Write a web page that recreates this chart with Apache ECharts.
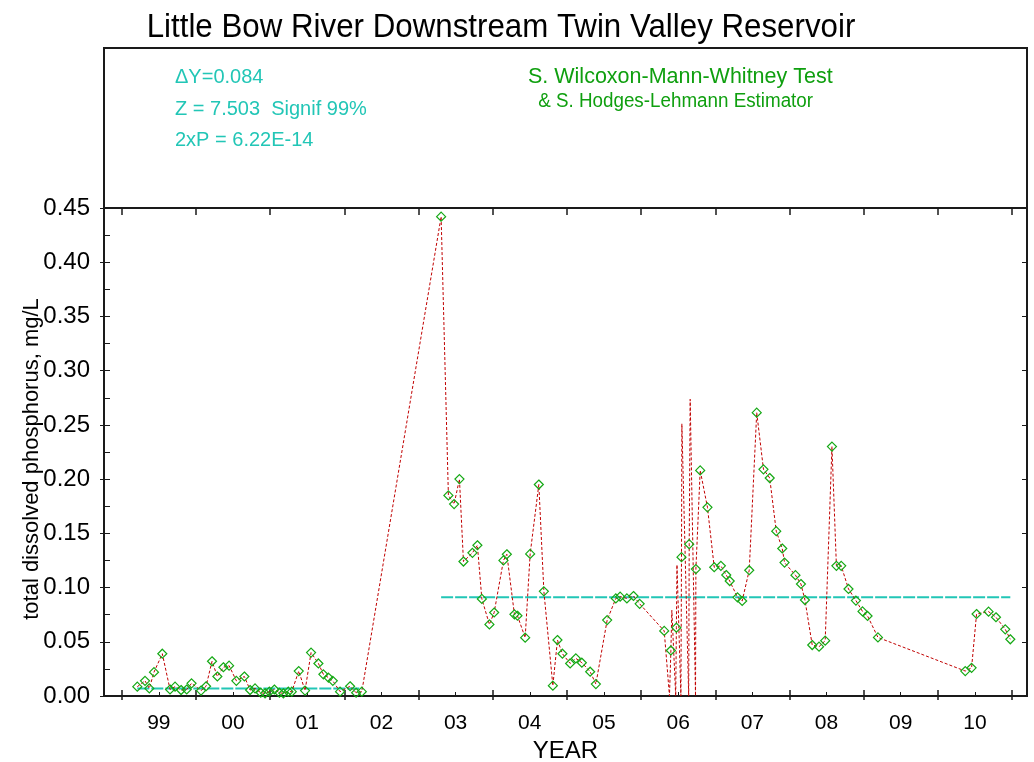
<!DOCTYPE html>
<html>
<head>
<meta charset="utf-8">
<script src="https://cdn.jsdelivr.net/npm/echarts@6/dist/echarts.min.js"></script>
<style>
  html, body { margin: 0; padding: 0; background: #fff; }
  #chart { width: 1034px; height: 762px; }
</style>
</head>
<body>
<div id="chart"></div>
<script>
// Sample dates (decimal years) and total dissolved phosphorus (mg/L)
const sampleDates = [
  1999.210, 1999.314, 1999.372, 1999.435, 1999.547, 1999.651, 1999.719, 1999.800, 1999.876, 1999.941,
  2000.069, 2000.137, 2000.217, 2000.289, 2000.370, 2000.447, 2000.545, 2000.653, 2000.730, 2000.797,
  2000.874, 2000.932, 2000.990, 2001.057, 2001.125, 2001.179, 2001.246, 2001.292, 2001.386, 2001.471,
  2001.552, 2001.651, 2001.718, 2001.786, 2001.845, 2001.943, 2002.078, 2002.159, 2002.236,
  2003.305, 2003.403, 2003.480, 2003.552, 2003.606, 2003.727, 2003.794, 2003.854, 2003.956, 2004.020,
  2004.145, 2004.191, 2004.293, 2004.334, 2004.438, 2004.505, 2004.622, 2004.690, 2004.811, 2004.873,
  2004.940, 2005.044, 2005.121, 2005.202, 2005.314, 2005.391, 2005.543, 2005.660, 2005.718, 2005.809,
  2005.898, 2005.981, 2006.312,
  2006.383, 2006.402, 2006.415, 2006.467, 2006.476, 2006.484, 2006.537, 2006.545, 2006.550,
  2006.642, 2006.649, 2006.662, 2006.734, 2006.739,
  2006.797, 2006.895, 2006.986, 2007.076, 2007.148, 2007.195, 2007.300, 2007.363, 2007.458, 2007.559,
  2007.650, 2007.734, 2007.822, 2007.903, 2007.934, 2008.081, 2008.155, 2008.209, 2008.307, 2008.399,
  2008.482, 2008.573, 2008.633, 2008.698, 2008.796, 2008.896, 2008.985, 2009.053, 2009.193,
  2010.370, 2010.455, 2010.522, 2010.684, 2010.784, 2010.909, 2010.977
];
const tdpValues = [
  0.0086, 0.014, 0.007, 0.022, 0.039, 0.006, 0.0086, 0.0055, 0.006, 0.0117,
  0.005, 0.009, 0.032, 0.018, 0.0265, 0.028, 0.014, 0.018, 0.0055, 0.007,
  0.003, 0.0025, 0.004, 0.006, 0.003, 0.0025, 0.004, 0.004, 0.023, 0.005,
  0.040, 0.030, 0.020, 0.017, 0.014, 0.004, 0.009, 0.003, 0.004,
  0.442, 0.185, 0.177, 0.200, 0.124, 0.132, 0.139, 0.0895, 0.066, 0.077,
  0.125, 0.1307, 0.0753, 0.074, 0.0538, 0.131, 0.195, 0.0965, 0.0095, 0.0516,
  0.039, 0.030, 0.0347, 0.0307, 0.0224, 0.011, 0.070, 0.090, 0.0916, 0.090,
  0.0922, 0.085, 0.060,
  0.0, 0.042, 0.079, 0.0, 0.063, 0.121, 0.0, 0.128, 0.251,
  0.0, 0.140, 0.2736, 0.0, 0.117,
  0.208, 0.174, 0.1187, 0.120, 0.1116, 0.106, 0.091, 0.0876, 0.116, 0.2613,
  0.209, 0.201, 0.152, 0.136, 0.123, 0.1114, 0.1033, 0.0885, 0.047, 0.0455,
  0.051, 0.230, 0.120, 0.120, 0.0987, 0.088, 0.078, 0.0738, 0.054,
  0.023, 0.026, 0.0756, 0.0778, 0.0726, 0.0615, 0.0523
];
// 1 = sample drawn with a marker, 0 = flagged value drawn as line only
const markerShown = [
  1,1,1,1,1,1,1,1,1,1, 1,1,1,1,1,1,1,1,1,1, 1,1,1,1,1,1,1,1,1,1, 1,1,1,1,1,1,1,1,1,
  1,1,1,1,1,1,1,1,1,1, 1,1,1,1,1,1,1,1,1,1, 1,1,1,1,1,1,1,1,1,1, 1,1,1,
  0,1,0,0,1,0,0,1,0, 0,1,0,0,1,
  1,1,1,1,1,1,1,1,1,1, 1,1,1,1,1,1,1,1,1,1, 1,1,1,1,1,1,1,1,1,
  1,1,1,1,1,1,1
];

// Period medians (Hodges-Lehmann step), start/end dates of each period
const periodStart = [1999.210, 2003.305];
const periodEnd = [2002.236, 2010.977];
const periodMedian = [0.007, 0.091];

// Axis ticks
const yearBounds = [1999, 2000, 2001, 2002, 2003, 2004, 2005, 2006, 2007, 2008, 2009, 2010, 2011];
const yearMids = [1999.5, 2000.5, 2001.5, 2002.5, 2003.5, 2004.5, 2005.5, 2006.5, 2007.5, 2008.5, 2009.5, 2010.5];
const xMin = 1998.761, xMax = 2011.202;

// Test results text
const statLines = ['\u0394Y=0.084', 'Z = 7.503  Signif 99%', '2xP = 6.22E-14'];
const testLines = ['S. Wilcoxon-Mann-Whitney Test', ' & S. Hodges-Lehmann Estimator'];
const chartTitle = 'Little Bow River Downstream Twin Valley Reservoir';
const yTitle = 'total dissolved phosphorus, mg/L';

const FONT = '"Liberation Sans", Arial, sans-serif';
const AXIS = '#1a1a1a';
const CYAN = '#22c6b6';
const GREEN = '#0f9f0f';

const seriesData = sampleDates.map((d, i) => {
  const item = { value: [d, tdpValues[i]] };
  if (!markerShown[i]) item.symbol = 'none';
  return item;
});

const medianSeries = periodMedian.map((m, i) => ({
  type: 'line',
  data: [[periodStart[i], m], [periodEnd[i], m]],
  symbol: 'none',
  lineStyle: { color: CYAN, width: 2, type: [12, 2] },
  z: 2,
  silent: true
}));

function xAxisBase(extra) {
  return Object.assign({
    type: 'value', gridIndex: 0, min: xMin, max: xMax,
    axisLine: { show: true, onZero: false, lineStyle: { color: AXIS, width: 2 } },
    axisLabel: { show: false },
    axisTick: { show: false },
    splitLine: { show: false }
  }, extra);
}
function yAxisBase(extra) {
  return Object.assign({
    type: 'value', gridIndex: 0, min: 0, max: 0.45, interval: 0.05,
    axisLine: { show: true, onZero: false, lineStyle: { color: AXIS, width: 2 } },
    axisLabel: { show: false },
    axisTick: { show: false },
    splitLine: { show: false }
  }, extra);
}

function condensedText(text, x, y, size, color, scaleX, align, rotation) {
  return {
    type: 'text', x: x, y: y, silent: true,
    scaleX: scaleX, rotation: rotation || 0,
    style: { text: text, font: size + 'px ' + FONT, fill: color, textAlign: align, textVerticalAlign: 'middle' }
  };
}

const chart = echarts.init(document.getElementById('chart'), null, { renderer: 'canvas' });
chart.setOption({
  animation: false,
  backgroundColor: '#fff',
  grid: { left: 104, right: 7, top: 208, bottom: 66, containLabel: false, outerBoundsMode: 'none' },
  xAxis: [
    xAxisBase({
      position: 'bottom',
      name: 'YEAR', nameLocation: 'middle', nameGap: 37,
      nameTextStyle: { fontFamily: FONT, fontSize: 24, color: '#000' },
      axisLabel: {
        show: true, customValues: yearMids, margin: 17,
        fontFamily: FONT, fontSize: 21, color: '#000',
        formatter: v => String(Math.floor(v) % 100).padStart(2, '0')
      },
      axisTick: { show: true, customValues: yearBounds, inside: true, length: 6, lineStyle: { color: AXIS, width: 1.5 } }
    }),
    xAxisBase({
      position: 'bottom',
      axisTick: { show: true, customValues: yearBounds, inside: false, length: 4, lineStyle: { color: AXIS, width: 1.5 } }
    }),
    xAxisBase({
      position: 'bottom',
      axisTick: { show: true, customValues: yearMids, inside: true, length: 4, lineStyle: { color: AXIS, width: 1 } }
    }),
    xAxisBase({
      position: 'top',
      axisTick: { show: true, customValues: yearBounds, inside: true, length: 7, lineStyle: { color: AXIS, width: 1.5 } }
    })
  ],
  yAxis: [
    yAxisBase({
      position: 'left',
      axisLabel: {
        show: true, margin: 14, fontFamily: FONT, fontSize: 24, color: '#000',
        formatter: v => v.toFixed(2)
      },
      axisTick: { show: true, inside: true, length: 6, lineStyle: { color: AXIS, width: 1 } },
      minorTick: { show: true, splitNumber: 2, length: 6, lineStyle: { color: AXIS, width: 1 } }
    }),
    yAxisBase({
      position: 'left',
      axisTick: { show: true, inside: false, length: 4, lineStyle: { color: AXIS, width: 1 } }
    }),
    yAxisBase({
      position: 'right',
      axisTick: { show: true, inside: true, length: 5, lineStyle: { color: AXIS, width: 1 } }
    })
  ],
  series: [
    ...medianSeries,
    {
      type: 'line',
      xAxisIndex: 0, yAxisIndex: 0,
      data: seriesData,
      symbol: 'diamond',
      symbolSize: 9,
      showAllSymbol: true,
      lineStyle: { color: '#c00000', width: 1, type: [3, 2] },
      itemStyle: { color: 'rgba(255,255,255,0)', borderColor: '#14a814', borderWidth: 1.2 },
      z: 3
    }
  ],
  graphic: [
    // upper annotation box above the plotting area
    {
      type: 'polyline', silent: true, z: 0,
      shape: { points: [[104, 208], [104, 48], [1027, 48], [1027, 208]] },
      style: { fill: 'none', stroke: AXIS, lineWidth: 2 }
    },
    condensedText(chartTitle, 501, 28, 34, '#000', 0.92, 'center'),
    condensedText(yTitle, 32, 459, 22, '#000', 1, 'center', Math.PI / 2),
    ...statLines.map((t, i) => condensedText(t, 175, [77, 109, 140][i], 20, CYAN, 1, 'left')),
    condensedText(testLines[0], 528, 77, 21.5, GREEN, 1, 'left'),
    condensedText(testLines[1], 533, 101, 20, GREEN, 0.94, 'left')
  ]
});
</script>
</body>
</html>
